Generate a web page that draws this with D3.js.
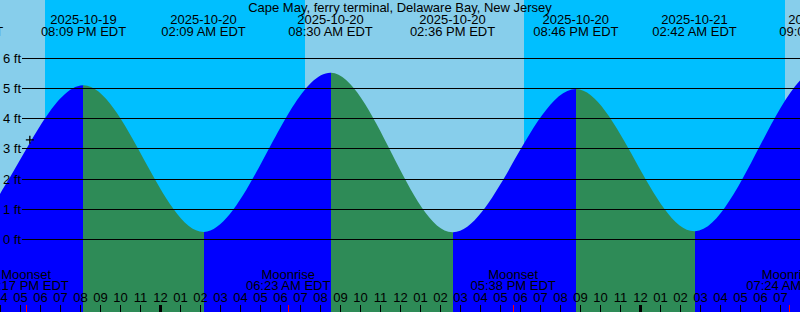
<!DOCTYPE html>
<html>
<head>
<meta charset="utf-8">
<script src="https://cdn.jsdelivr.net/npm/d3@7"></script>
<style>
  html, body { margin: 0; padding: 0; background: #fff; }
  svg { display: block; }
  text { font-family: "Liberation Sans", Arial, sans-serif; font-size: 13px; fill: #000; }
</style>
</head>
<body>
<div id="chart"></div>
<script>
// Tide extremes (high / low); first and last lie off the edges
const tideTimes = ["2025-10-19T07:50", "2025-10-19T14:00", "2025-10-19T20:09", "2025-10-20T02:09",
                   "2025-10-20T08:30", "2025-10-20T14:36", "2025-10-20T20:46", "2025-10-21T02:42",
                   "2025-10-21T09:03", "2025-10-21T15:20"];
const tideHeights = [5.30, 0.35, 5.11, 0.25, 5.52, 0.24, 4.98, 0.27, 5.68, 0.20];

// Sun events (background day / night bands)
const sunTimes = ["2025-10-19T18:13", "2025-10-20T07:14", "2025-10-20T18:11", "2025-10-21T07:14"];
const sunEvents = ["Sunset", "Sunrise", "Sunset", "Sunrise"];

// Moon events
const moonTimes = ["2025-10-19T17:17", "2025-10-20T06:23", "2025-10-20T17:38", "2025-10-21T07:24"];
const moonEvents = ["Moonset", "Moonrise", "Moonset", "Moonrise"];

// Mark
const markTime = "2025-10-19T17:28";
const markHeight = 3.3;

const heightTicks = [0, 1, 2, 3, 4, 5, 6];
const title = "Cape May, ferry terminal, Delaware Bay, New Jersey";

const width = 800, height = 312;
const parse = d3.utcParse("%Y-%m-%dT%H:%M");
const fmtDate = d3.utcFormat("%Y-%m-%d");
const fmtTime = d => d3.utcFormat("%I:%M %p")(d) + " EDT";

const svg = d3.select("#chart").append("svg")
    .attr("width", width)
    .attr("height", height);

// 20 px per hour, midnight of the 20th at x = 160.5
const x = d3.scaleUtc()
    .domain([parse("2025-10-20T00:00"), parse("2025-10-21T00:00")])
    .range([160.5, 640.5]);
const y = d3.scaleLinear()
    .domain([0, 6])
    .range([239.5, 58.3]);

const start = x.invert(0), end = x.invert(width);

// Day / night background
const bounds = [start].concat(sunTimes.map(parse), [end]);
const bands = d3.pairs(bounds).map((p, i) => ({
    t0: p[0], t1: p[1],
    day: i === 0 ? sunEvents[0] === "Sunset" : sunEvents[i - 1] === "Sunrise"
}));
svg.selectAll(".band")
    .data(bands)
    .enter().append("rect")
    .attr("class", "band")
    .attr("x", d => x(d.t0))
    .attr("width", d => x(d.t1) - x(d.t0))
    .attr("y", 0)
    .attr("height", height)
    .attr("fill", d => d.day ? "#87CEEB" : "#00BFFF")
    .attr("shape-rendering", "crispEdges");

// Tide fill: blue while rising, green while falling
const tide = tideTimes.map((t, i) => ({ t: parse(t), h: tideHeights[i] }));
const area = d3.area()
    .x(d => x(d.t))
    .y0(height)
    .y1(d => y(d.h))
    .curve(d3.curveMonotoneX);

const defs = svg.append("defs");
d3.pairs(tide).forEach((p, i) => {
    const rising = p[1].h > p[0].h;
    const x0 = Math.round(x(p[0].t)), x1 = Math.round(x(p[1].t));
    defs.append("clipPath")
        .attr("id", "seg" + i)
        .append("rect")
        .attr("x", x0)
        .attr("y", 0)
        .attr("width", x1 - x0)
        .attr("height", height);
    svg.append("path")
        .datum(tide)
        .attr("clip-path", "url(#seg" + i + ")")
        .attr("fill", rising ? "#0000FF" : "#2E8B57")
        .attr("d", area);
});

// Height grid lines and labels
svg.selectAll(".grid")
    .data(heightTicks)
    .enter().append("line")
    .attr("class", "grid")
    .attr("x1", 22)
    .attr("x2", width)
    .attr("y1", d => Math.floor(y(d)) + 0.5)
    .attr("y2", d => Math.floor(y(d)) + 0.5)
    .attr("stroke", "#000")
    .attr("stroke-width", 1);

svg.selectAll(".hlabel")
    .data(heightTicks)
    .enter().append("text")
    .attr("class", "hlabel")
    .attr("x", 3)
    .attr("y", d => Math.floor(y(d)) + 4.5)
    .text(d => d + " ft");

// Mark
const mx = x(parse(markTime)), my = y(markHeight);
svg.append("path")
    .attr("d", `M${mx - 4},${my}H${mx + 4}M${mx},${my - 4}V${my + 4}`)
    .attr("stroke", "#000")
    .attr("stroke-width", 1.3);

// Title
svg.append("text")
    .attr("x", width / 2)
    .attr("y", 12)
    .attr("text-anchor", "middle")
    .text(title);

// Tide event labels
const tl = svg.selectAll(".tlabel")
    .data(tide)
    .enter().append("g")
    .attr("class", "tlabel")
    .attr("transform", d => "translate(" + x(d.t) + ",0)");
tl.append("text")
    .attr("y", 24)
    .attr("text-anchor", "middle")
    .text(d => fmtDate(d.t));
tl.append("text")
    .attr("y", 36)
    .attr("text-anchor", "middle")
    .text(d => fmtTime(d.t));

// Moon event labels
const moon = moonTimes.map((t, i) => ({ t: parse(t), name: moonEvents[i] }));
const ml = svg.selectAll(".mlabel")
    .data(moon)
    .enter().append("g")
    .attr("class", "mlabel")
    .attr("transform", d => "translate(" + x(d.t) + ",0)");
ml.append("text")
    .attr("y", 278.5)
    .attr("text-anchor", "middle")
    .text(d => d.name);
ml.append("text")
    .attr("y", 290)
    .attr("text-anchor", "middle")
    .text(d => fmtTime(d.t));

// Hour ticks and labels
const hours = d3.utcHour.range(d3.utcHour.floor(start), end);
svg.selectAll(".hour")
    .data(hours)
    .enter().append("text")
    .attr("class", "hour")
    .attr("x", d => x(d))
    .attr("y", 302)
    .attr("text-anchor", "middle")
    .text(d3.utcFormat("%I"));

svg.selectAll(".tick")
    .data(hours)
    .enter().append("line")
    .attr("class", "tick")
    .attr("x1", d => x(d))
    .attr("x2", d => x(d))
    .attr("y1", 305)
    .attr("y2", height)
    .attr("stroke", "#000")
    .attr("stroke-width", d => d.getUTCHours() === 0 ? 3 : 1);

svg.selectAll(".mtick")
    .data(moon)
    .enter().append("line")
    .attr("class", "mtick")
    .attr("x1", d => Math.round(x(d.t)) + 0.5)
    .attr("x2", d => Math.round(x(d.t)) + 0.5)
    .attr("y1", 305)
    .attr("y2", height)
    .attr("stroke", "#FF0000")
    .attr("stroke-width", 1);
</script>
</body>
</html>
